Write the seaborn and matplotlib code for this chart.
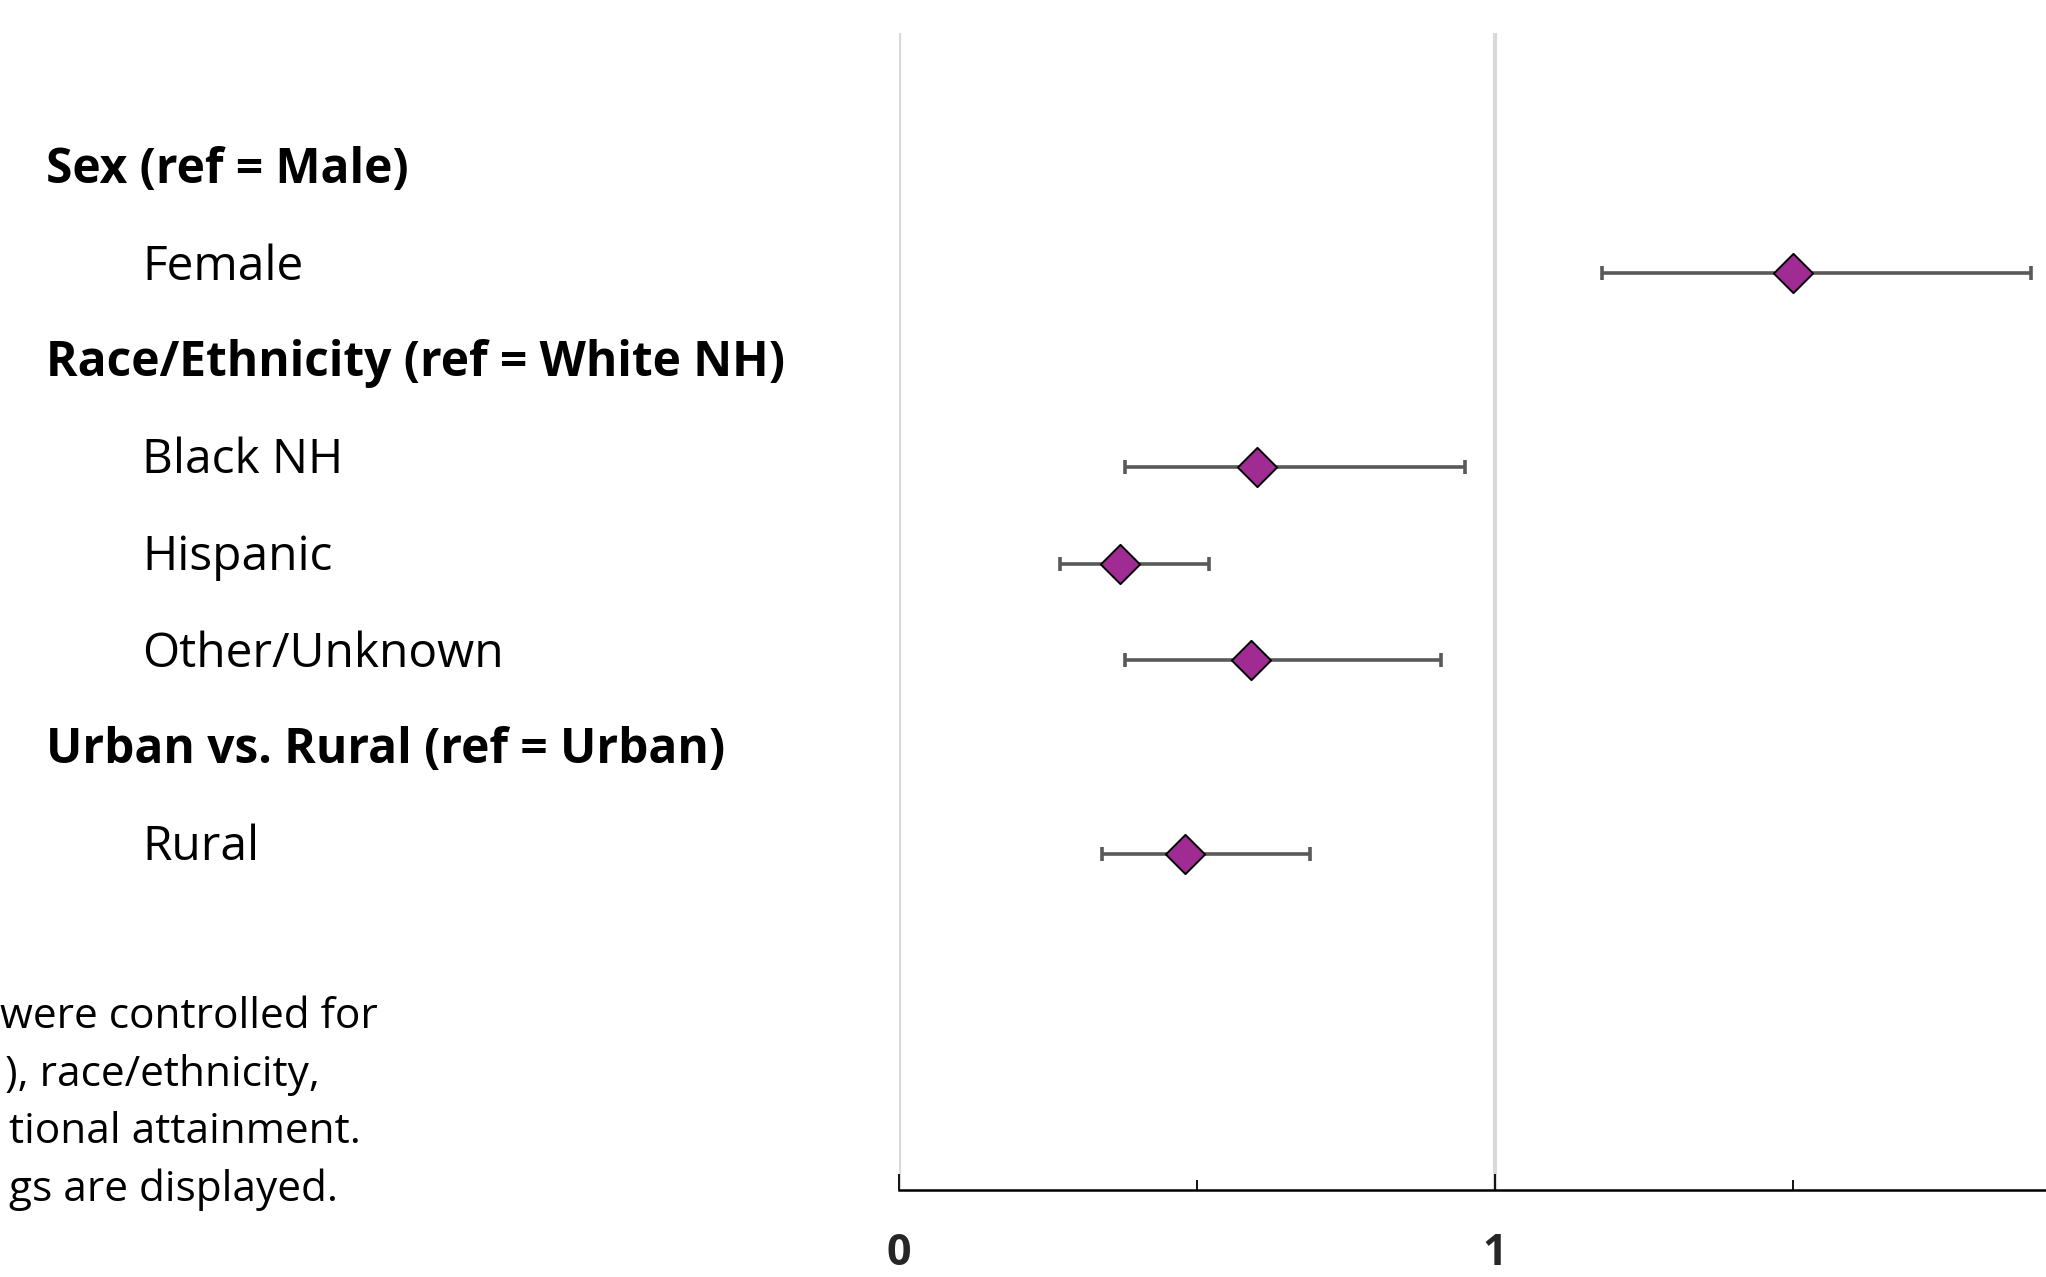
import numpy as np
import pandas as pd
import matplotlib
matplotlib.use("Agg")
import matplotlib.pyplot as plt
import matplotlib.transforms as mtransforms
import seaborn as sns

# rows of the forest plot (headers have no estimate)
labels = ["Sex (ref = Male)", "Female",
          "Race/Ethnicity (ref = White NH)", "Black NH", "Hispanic", "Other/Unknown",
          "Urban vs. Rural (ref = Urban)", "Rural"]
is_header = [True, False, True, False, False, False, True, False]

groups = ["Female", "Black NH", "Hispanic", "Other/Unknown", "Rural"]
odds_ratio = [1.50, 0.60, 0.37, 0.59, 0.48]
ci_low = [1.18, 0.38, 0.27, 0.38, 0.34]
ci_high = [1.90, 0.95, 0.52, 0.91, 0.69]

note_lines = ["were controlled for", "), race/ethnicity,", "tional attainment.", "gs are displayed."]

df = pd.DataFrame({"group": groups, "or": odds_ratio, "lo": ci_low, "hi": ci_high})
df["row"] = [labels.index(g) for g in groups]

sns.set_style("white")
plt.rcParams["font.family"] = ["Open Sans", "DejaVu Sans"]

W, H = 2046, 1277
fig = plt.figure(figsize=(W / 100, H / 100), dpi=100)
ax = fig.add_axes([899 / W, (H - 1190) / H, (W - 899) / W, (1190 - 33) / H])

ax.errorbar(df["or"], df["row"], xerr=[df["or"] - df["lo"], df["hi"] - df["or"]],
            fmt="none", ecolor="#595959", elinewidth=2.6, capsize=4.8, capthick=2.6, zorder=2)
sns.scatterplot(data=df, x="or", y="row", marker="D", s=400, color="#A02B93",
                edgecolor="black", linewidth=1.4, zorder=3, ax=ax, legend=False)

ax.set_xlim(0, (W - 899) / 596)
ax.set_ylim(10.47, -1.48)
ax.set_xlabel("")
ax.set_ylabel("")
ax.set_yticks([])
ax.set_xticks([0, 1])
ax.set_xticklabels(["0", "1"], fontsize=31, fontweight="bold")
ax.set_xticks([0.5, 1.5], minor=True)
ax.tick_params(axis="x", which="major", direction="in", length=11.5, width=1.3, color="black", pad=30, bottom=True)
ax.tick_params(axis="x", which="minor", direction="in", length=7, width=1.3, color="black", bottom=True)
ax.grid(axis="x", which="major", color="#D9D9D9", linewidth=3)
ax.set_axisbelow(True)
for s in ["left", "right", "top"]:
    ax.spines[s].set_visible(False)
ax.spines["bottom"].set_color("black")
ax.spines["bottom"].set_linewidth(1.8)

# row labels on the left
tr = mtransforms.blended_transform_factory(fig.transFigure, ax.transData)
for i, (lab, hdr) in enumerate(zip(labels, is_header)):
    x = 46 / W if hdr else 142 / W
    ax.text(x, i - 0.065, lab, transform=tr, ha="left", va="center", fontsize=34.5,
            fontweight="bold" if hdr else "normal", color="black", clip_on=False)

# footnote (cut off at left edge)
note_right = [378, 320, 361, 338]
note_y = [1017, 1075, 1132, 1190]
for txt, xr, yy in zip(note_lines, note_right, note_y):
    fig.text(xr / W, 1 - yy / H, txt, ha="right", va="center", fontsize=30.5, color="black")

fig.savefig("out.png", dpi=100)
